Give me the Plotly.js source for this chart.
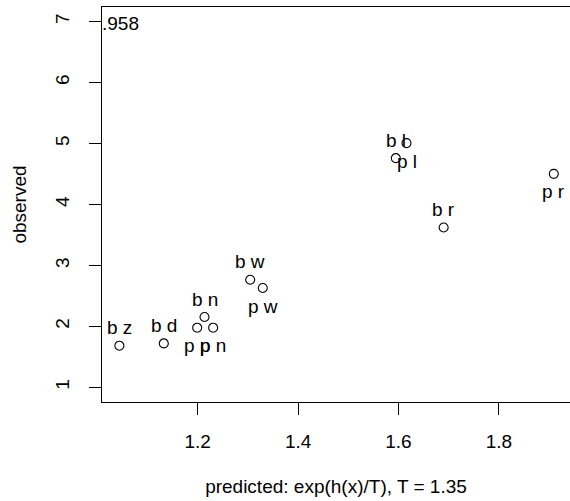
<!DOCTYPE html>
<html>
<head>
<meta charset="utf-8">
<script src="https://cdn.plot.ly/plotly-3.0.1.min.js"></script>
<style>html,body{margin:0;padding:0;background:#fff;}#chart{width:570px;height:501px;}</style>
</head>
<body>
<div id="chart"></div>
<script>
// Data
var labels    = ["b z", "b d", "p p", "b n", "p n", "b w", "p w", "b l", "p l", "b r", "p r"];
var predicted = [1.044, 1.1325, 1.199, 1.2136, 1.2308, 1.3046, 1.3297, 1.5947, 1.616, 1.690, 1.9094];
var observed  = [1.684, 1.721, 1.979, 2.154, 1.979, 2.766, 2.630, 4.760, 5.007, 3.623, 4.503];
var labelSide = ["above", "above", "below", "above", "below", "above", "below", "above", "below", "above", "below"];
var xTicks = [1.2, 1.4, 1.6, 1.8];
var yTicks = [1, 2, 3, 4, 5, 6, 7];
var cornerText = ".958";

var FONT = "Liberation Sans, Arial, Helvetica, sans-serif";

var trace = {
  x: predicted, y: observed, type: "scatter", mode: "markers",
  marker: {symbol: "circle-open", size: 9, color: "#000", line: {width: 1.1, color: "#000"}},
  hoverinfo: "skip", cliponaxis: false
};

var annotations = labels.map(function (t, i) {
  return {
    x: predicted[i], y: observed[i], xref: "x", yref: "y", text: t, showarrow: false,
    yshift: labelSide[i] === "above" ? 18 : -18,
    font: {family: FONT, size: 19, color: "#000"}
  };
});
annotations.push({
  x: 0, y: 7, xref: "paper", yref: "y", text: cornerText, showarrow: false,
  xanchor: "left", yanchor: "middle", xshift: -2, yshift: -2,
  font: {family: FONT, size: 19, color: "#000"}
});

var layout = {
  width: 570, height: 501,
  margin: {l: 102, r: 0, t: 7, b: 99, pad: 0},
  paper_bgcolor: "#fff", plot_bgcolor: "#fff",
  showlegend: false,
  font: {family: FONT, size: 19, color: "#000"},
  xaxis: {
    range: [1.0094, 1.9417], tickvals: xTicks, ticktext: xTicks.map(function (v) { return v.toFixed(1); }),
    showgrid: false, zeroline: false, showline: true, mirror: true, linecolor: "#000", linewidth: 1,
    ticks: "outside", ticklen: 12, tickwidth: 1, tickcolor: "#000", ticklabelstandoff: 10,
    tickfont: {family: FONT, size: 19, color: "#000"},
    title: {text: "predicted: exp(h(x)/T), T = 1.35", font: {family: FONT, size: 19, color: "#000"}, standoff: 28}
  },
  yaxis: {
    range: [0.76, 7.24], tickvals: yTicks, ticktext: yTicks.map(String), tickangle: -90,
    showgrid: false, zeroline: false, showline: true, mirror: false, linecolor: "#000", linewidth: 1,
    ticks: "outside", ticklen: 12, tickwidth: 1, tickcolor: "#000", ticklabelstandoff: 12,
    tickfont: {family: FONT, size: 19, color: "#000"},
    title: {text: "observed", font: {family: FONT, size: 19, color: "#000"}, standoff: 20}
  },
  annotations: annotations
};

Plotly.newPlot("chart", [trace], layout, {staticPlot: true, displayModeBar: false});
</script>
</body>
</html>
